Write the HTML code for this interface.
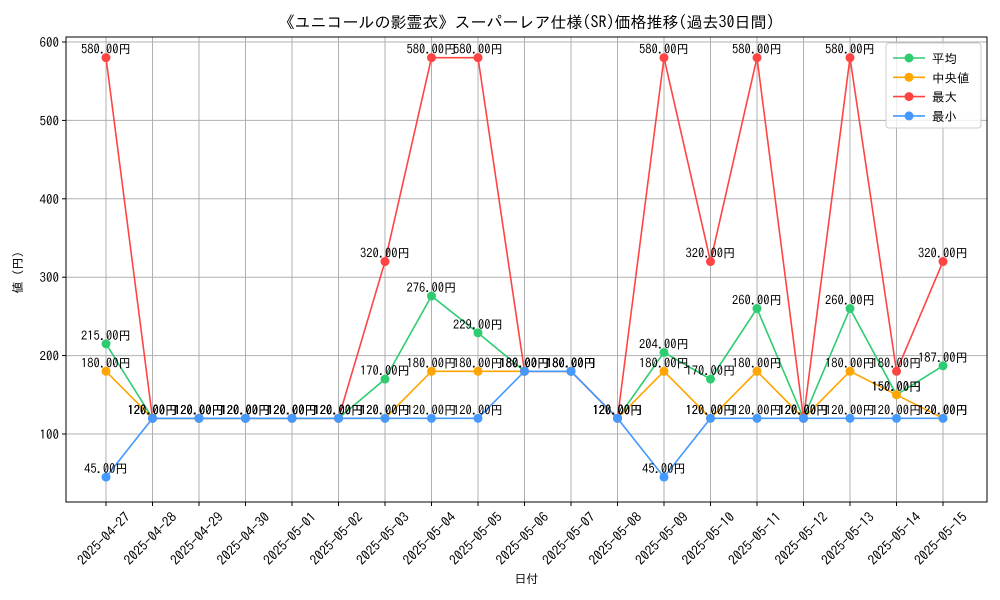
<!DOCTYPE html>
<html><head><meta charset="utf-8"><style>
html,body{margin:0;padding:0;background:#fff;}
svg{display:block;font-family:"IPAGothic","Liberation Sans","Noto Sans CJK JP",sans-serif;}
</style></head><body>
<svg id="chart" width="1000" height="600" xmlns="http://www.w3.org/2000/svg"></svg>
<script>
const dates=["2025-04-27","2025-04-28","2025-04-29","2025-04-30","2025-05-01","2025-05-02","2025-05-03","2025-05-04","2025-05-05","2025-05-06","2025-05-07","2025-05-08","2025-05-09","2025-05-10","2025-05-11","2025-05-12","2025-05-13","2025-05-14","2025-05-15"];
const avgVals=[215,120,120,120,120,120,170,276,229,180,180,120,204,170,260,120,260,150,187];
const medVals=[180,120,120,120,120,120,120,180,180,180,180,120,180,120,180,120,180,150,120];
const maxVals=[580,120,120,120,120,120,320,580,580,180,180,120,580,320,580,120,580,180,320];
const minVals=[45,120,120,120,120,120,120,120,120,180,180,120,45,120,120,120,120,120,120];
const yTicks=[100,200,300,400,500,600];
const seriesNames=["平均","中央値","最大","最小"];
const seriesColors=["#2ecc71","#ffa500","#ff4444","#4499ff"];

const NS="http://www.w3.org/2000/svg";
const svg=document.getElementById('chart');
const L=66,R=987,T=37,B=502;
const x0=106,x1=943;
function xs(i){return x0+(x1-x0)*i/(dates.length-1);}
function ys(v){return 434-(v-100)*0.784;}
function mk(tag,attrs,parent){const e=document.createElementNS(NS,tag);for(const k in attrs)e.setAttribute(k,attrs[k]);(parent||svg).appendChild(e);return e;}

const title=mk('text',{x:(L+R)/2,y:28,'text-anchor':'middle','font-size':16});
title.textContent="《ユニコールの影霊衣》スーパーレア仕様(SR)価格推移(過去30日間)";



yTicks.forEach(v=>{
  const g=mk('line',{x1:L,x2:R,y1:ys(v),y2:ys(v),stroke:'#b0b0b0','stroke-width':1});
  
  
  mk('line',{x1:L-4,x2:L,y1:ys(v),y2:ys(v),stroke:'#000'});
  const t=mk('text',{x:L-7,y:ys(v)+5,'text-anchor':'end','font-size':13});
  t.textContent=v;
  
  
});
dates.forEach((d,i)=>{
  const g=mk('line',{x1:xs(i),x2:xs(i),y1:T,y2:B,stroke:'#b0b0b0','stroke-width':1});
  
  
  mk('line',{x1:xs(i),x2:xs(i),y1:B,y2:B+4,stroke:'#000'});
  const ax=xs(i)+25, ay=B+16;
  const t=mk('text',{x:ax,y:ay,'text-anchor':'end','font-size':13.5,transform:`rotate(-45 ${ax} ${ay})`});
  t.textContent=d;
  
  
});
const frame=mk('rect',{x:L,y:T,width:R-L,height:B-T,fill:'none',stroke:'#000','stroke-width':1});



const xl=mk('text',{x:(L+R)/2,y:583,'text-anchor':'middle','font-size':12});
xl.textContent="日付";


const yl=mk('text',{x:22,y:(T+B)/2,'text-anchor':'middle','font-size':12,transform:`rotate(-90 22 ${(T+B)/2})`});
yl.textContent="値（円）";



const allSeries=[avgVals,medVals,maxVals,minVals];
const keys=['average','median','max','min'];
allSeries.forEach((vals,s)=>{
  const pts=vals.map((v,i)=>xs(i)+','+ys(v)).join(' ');
  const pl=mk('polyline',{points:pts,fill:'none',stroke:seriesColors[s],'stroke-width':1.6});
  
  
  vals.forEach((v,i)=>{
    const c=mk('circle',{cx:xs(i),cy:ys(v),r:4.5,fill:seriesColors[s]});
    
    
  });
});
allSeries.forEach((vals,s)=>{
  vals.forEach((v,i)=>{
    const t=mk('text',{x:xs(i),y:ys(v)-4,'text-anchor':'middle','font-size':12.5,fill:'#000'});
    t.textContent=v.toFixed(2)+"円";
    
    
  });
});

const lg=mk('g',{});


mk('rect',{x:886,y:43,width:95,height:85,fill:'#fff','fill-opacity':0.8,stroke:'#ccc',rx:3},lg);
seriesNames.forEach((n,s)=>{
  const y=58+s*19.3;
  const e=mk('g',{},lg);
  
  
  mk('line',{x1:893,x2:925,y1:y,y2:y,stroke:seriesColors[s],'stroke-width':1.6},e);
  mk('circle',{cx:909,cy:y,r:4.5,fill:seriesColors[s]},e);
  const t=mk('text',{x:932,y:y+5,'font-size':12.5},e);
  t.textContent=n;
});
</script>
</body></html>
